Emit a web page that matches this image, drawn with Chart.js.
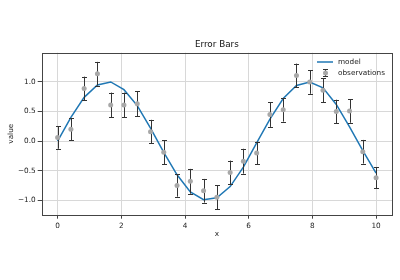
<!DOCTYPE html>
<html>
<head>
<meta charset="utf-8">
<script src="https://cdn.jsdelivr.net/npm/chart.js@4.4.0/dist/chart.umd.min.js"></script>
<style>
  html, body { margin: 0; padding: 0; background: #fff; }
  #chart { display: block; }
</style>
</head>
<body>
<canvas id="chart" width="400" height="280"></canvas>
<script>
// x positions (25 samples from 0 to 10)
const xs = [0, 0.417, 0.833, 1.25, 1.667, 2.083, 2.5, 2.917, 3.333, 3.75, 4.167, 4.583,
    5.0, 5.417, 5.833, 6.25, 6.667, 7.083, 7.5, 7.917, 8.333, 8.75, 9.167, 9.583, 10.0];
const model = [0.0, 0.40, 0.74, 0.95, 1.0, 0.87, 0.60, 0.22, -0.19, -0.57, -0.86, -0.99,
    -0.96, -0.77, -0.44, -0.03, 0.37, 0.72, 0.94, 1.0, 0.90, 0.62, 0.24, -0.16, -0.54];
const observations = [0.06, 0.20, 0.89, 1.14, 0.61, 0.61, 0.63, 0.16, -0.19, -0.75, -0.68, -0.84,
    -0.95, -0.53, -0.34, -0.20, 0.45, 0.53, 1.11, 1.0, 0.86, 0.50, 0.51, -0.18, -0.62];
const errors = [0.19, 0.19, 0.2, 0.2, 0.21, 0.21, 0.21, 0.2, 0.2, 0.19, 0.21, 0.2,
    0.2, 0.2, 0.21, 0.19, 0.21, 0.2, 0.2, 0.2, 0.2, 0.2, 0.2, 0.2, 0.18];
const xTicks = [0, 2, 4, 6, 8, 10];
const yTicks = [-1.0, -0.5, 0.0, 0.5, 1.0];

const FONT = "'DejaVu Sans', sans-serif";
const BLUE = '#1f77b4';
const GRAY = '#a8a8a8';
const BAR = '#333333';

function fmtY(v) {
    let s = Math.abs(v).toFixed(1);
    return v < 0 ? '\u2212' + s : s;
}

// error bars go between the model line and the dots
const errorBars = {
    id: 'errorBars',
    afterDatasetDraw(chart, args) {
        if (args.index !== 0) return;
        const {ctx, scales: {x, y}} = chart;
        ctx.save();
        ctx.strokeStyle = BAR;
        ctx.lineWidth = 1;
        for (let i = 0; i < xs.length; i++) {
            let px = Math.round(x.getPixelForValue(xs[i])) + 0.5;
            let top = y.getPixelForValue(observations[i] + errors[i]);
            let bot = y.getPixelForValue(observations[i] - errors[i]);
            ctx.beginPath();
            ctx.moveTo(px, top);
            ctx.lineTo(px, bot);
            ctx.moveTo(px - 2.5, Math.round(top) + 0.5);
            ctx.lineTo(px + 2.5, Math.round(top) + 0.5);
            ctx.moveTo(px - 2.5, Math.round(bot) + 0.5);
            ctx.lineTo(px + 2.5, Math.round(bot) + 0.5);
            ctx.stroke();
        }
        ctx.restore();
    }
};

// full frame, title over the axes and legend inside them
const frameAndLegend = {
    id: 'frameAndLegend',
    afterDraw(chart) {
        const {ctx, chartArea: a} = chart;
        ctx.save();
        ctx.strokeStyle = '#444';
        ctx.lineWidth = 1;
        ctx.strokeRect(Math.round(a.left) + 0.5, Math.round(a.top) + 0.5,
            Math.round(a.right - a.left), Math.round(a.bottom - a.top));

        ctx.fillStyle = '#111';
        ctx.font = '8.8px ' + FONT;
        ctx.textAlign = 'center';
        ctx.textBaseline = 'middle';
        ctx.fillText('Error Bars', (a.left + a.right) / 2, 45);

        let lx = 317, ly1 = 62, ly2 = 73;
        ctx.strokeStyle = BLUE;
        ctx.lineWidth = 1.5;
        ctx.beginPath();
        ctx.moveTo(lx, ly1);
        ctx.lineTo(lx + 16, ly1);
        ctx.stroke();

        let cx = lx + 8.5;
        ctx.strokeStyle = BAR;
        ctx.lineWidth = 1;
        ctx.beginPath();
        ctx.moveTo(cx, ly2 - 4);
        ctx.lineTo(cx, ly2 + 4);
        ctx.moveTo(cx - 2.5, ly2 - 3.5);
        ctx.lineTo(cx + 2.5, ly2 - 3.5);
        ctx.moveTo(cx - 2.5, ly2 + 3.5);
        ctx.lineTo(cx + 2.5, ly2 + 3.5);
        ctx.stroke();
        ctx.fillStyle = GRAY;
        ctx.beginPath();
        ctx.arc(cx, ly2, 2.5, 0, Math.PI * 2);
        ctx.fill();

        ctx.fillStyle = '#222';
        ctx.font = '7.3px ' + FONT;
        ctx.textAlign = 'left';
        ctx.fillText('model', 338, ly1);
        ctx.fillText('observations', 338, ly2);
        ctx.restore();
    }
};

new Chart(document.getElementById('chart'), {
    type: 'line',
    data: {
        datasets: [
            {
                label: 'model',
                data: xs.map((v, i) => ({x: v, y: model[i]})),
                borderColor: BLUE,
                borderWidth: 1.5,
                pointRadius: 0,
                fill: false,
                tension: 0,
                order: 2
            },
            {
                label: 'observations',
                data: xs.map((v, i) => ({x: v, y: observations[i]})),
                showLine: false,
                pointRadius: 2.5,
                pointBackgroundColor: GRAY,
                pointBorderWidth: 0,
                order: 1
            }
        ]
    },
    options: {
        responsive: false,
        animation: false,
        layout: {padding: {left: 0, right: 8, top: 52.7, bottom: 0}},
        plugins: {
            legend: {display: false},
            tooltip: {enabled: false},
            title: {display: false}
        },
        scales: {
            x: {
                type: 'linear',
                min: -0.5,
                max: 10.5,
                afterBuildTicks: s => { s.ticks = xTicks.map(v => ({value: v})); },
                afterFit: s => { s.height = 65.3; },
                ticks: {
                    color: '#222',
                    font: {family: FONT, size: 7.3},
                    padding: 3,
                    maxRotation: 0,
                    callback: v => String(v)
                },
                grid: {color: '#d8d8d8', tickColor: '#444', tickLength: 4},
                border: {display: false},
                title: {
                    display: true,
                    text: 'x',
                    color: '#222',
                    font: {family: FONT, size: 7.3, lineHeight: 1.2},
                    padding: {top: 0, bottom: 41.6}
                }
            },
            y: {
                type: 'linear',
                min: -1.245,
                max: 1.495,
                afterBuildTicks: s => { s.ticks = yTicks.map(v => ({value: v})); },
                afterFit: s => { s.width = 41.7; },
                ticks: {
                    color: '#222',
                    font: {family: FONT, size: 7.3},
                    padding: 2,
                    callback: v => fmtY(v)
                },
                grid: {color: '#d8d8d8', tickColor: '#444', tickLength: 4},
                border: {display: false},
                title: {
                    display: true,
                    text: 'value',
                    color: '#222',
                    font: {family: FONT, size: 7.3, lineHeight: 1.2},
                    padding: {top: 6.6, bottom: 0}
                }
            }
        }
    },
    plugins: [errorBars, frameAndLegend]
});
</script>
</body>
</html>
